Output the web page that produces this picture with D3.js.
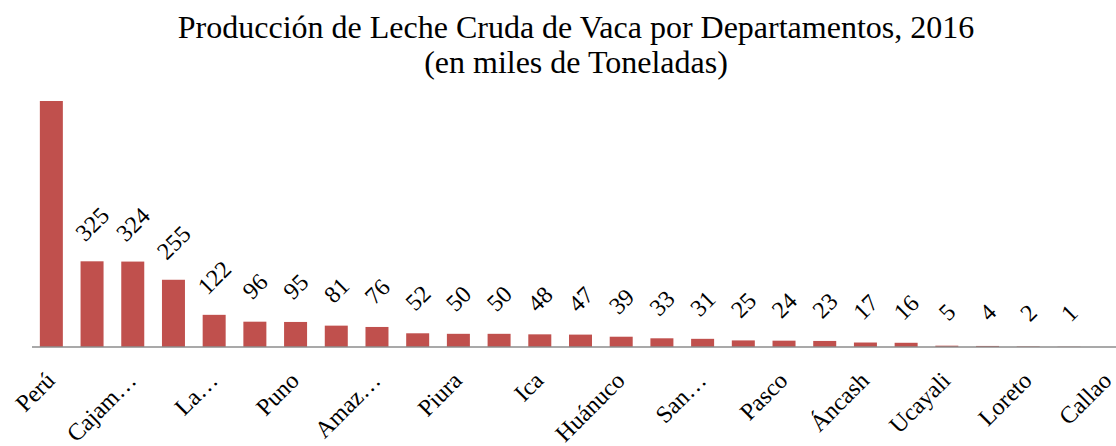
<!DOCTYPE html>
<html>
<head>
<meta charset="utf-8">
<script src="https://cdn.jsdelivr.net/npm/d3@7"></script>
<style>
  body { margin: 0; background: #fff; }
  text { font-family: "Liberation Serif", "Times New Roman", serif; fill: #000; }
</style>
</head>
<body>
<svg id="chart" width="1116" height="446"></svg>
<script>
var categories = ['Perú', 'Arequipa', 'Cajamarca', 'Lima', 'La Libertad', 'Cusco', 'Puno', 'Junín',
    'Amazonas', 'Ayacucho', 'Piura', 'Apurímac', 'Ica', 'Huancavelica', 'Huánuco', 'Lambayeque',
    'San Martín', 'Tacna', 'Pasco', 'Moquegua', 'Áncash', 'Tumbes', 'Ucayali', 'Madre de Dios',
    'Loreto', 'Tumbes Sur', 'Callao'];
var tickLabels = ['Perú', '', 'Cajam…', '', 'La…', '', 'Puno', '', 'Amaz…', '', 'Piura', '', 'Ica', '',
    'Huánuco', '', 'San…', '', 'Pasco', '', 'Áncash', '', 'Ucayali', '', 'Loreto', '', 'Callao'];
var values = [1950, 325, 324, 255, 122, 96, 95, 81, 76, 52, 50, 50, 48, 47, 39, 33, 31, 25, 24, 23,
    17, 16, 5, 4, 2, 1, 0];
var titleLines = ['Producción de Leche Cruda de Vaca por Departamentos, 2016', '(en miles de Toneladas)'];

var svg = d3.select('#chart');

var x = d3.scaleBand()
    .domain(categories)
    .range([31, 1130])
    .paddingInner(0.435)
    .paddingOuter(0.2175);

// Perú sale del área del gráfico, se recorta arriba
var y = d3.scaleLinear()
    .domain([0, 933])
    .range([347, 101])
    .clamp(true);

svg.append('g').selectAll('text')
    .data(titleLines)
    .join('text')
    .attr('x', 576)
    .attr('y', (d, i) => 38 + i * 35)
    .attr('text-anchor', 'middle')
    .attr('font-size', 32)
    .text(d => d);

var data = categories.map((c, i) => ({ name: c, value: values[i], tick: tickLabels[i] }));

svg.append('g').selectAll('rect')
    .data(data)
    .join('rect')
    .attr('x', d => x(d.name))
    .attr('y', d => y(d.value))
    .attr('width', x.bandwidth())
    .attr('height', d => y(0) - y(d.value))
    .attr('fill', '#C0504D');

svg.append('line')
    .attr('x1', 32).attr('x2', 1116)
    .attr('y1', y(0)).attr('y2', y(0))
    .attr('stroke', '#8c8c8c')
    .attr('stroke-width', 1.5);

// etiquetas de datos (la de Perú queda fuera)
svg.append('g').selectAll('text')
    .data(data.filter(d => d.value > 0 && d.value <= y.domain()[1]))
    .join('text')
    .attr('text-anchor', 'middle')
    .attr('dy', '0.35em')
    .attr('font-size', 24)
    .text(d => d.value)
    .attr('transform', function (d) {
        var len = this.getComputedTextLength();
        return 'translate(' + (x(d.name) + x.bandwidth() / 2) + ',' + (y(d.value) - 32 - 0.15 * len) + ') rotate(-45)';
    });

svg.append('g').selectAll('text')
    .data(data.filter(d => d.tick !== ''))
    .join('text')
    .attr('transform', d => 'translate(' + Math.min(x(d.name) + x.bandwidth() / 2 + 5, 1113) + ',382) rotate(-45)')
    .attr('text-anchor', 'end')
    .attr('font-size', 24)
    .text(d => d.tick);
</script>
</body>
</html>
